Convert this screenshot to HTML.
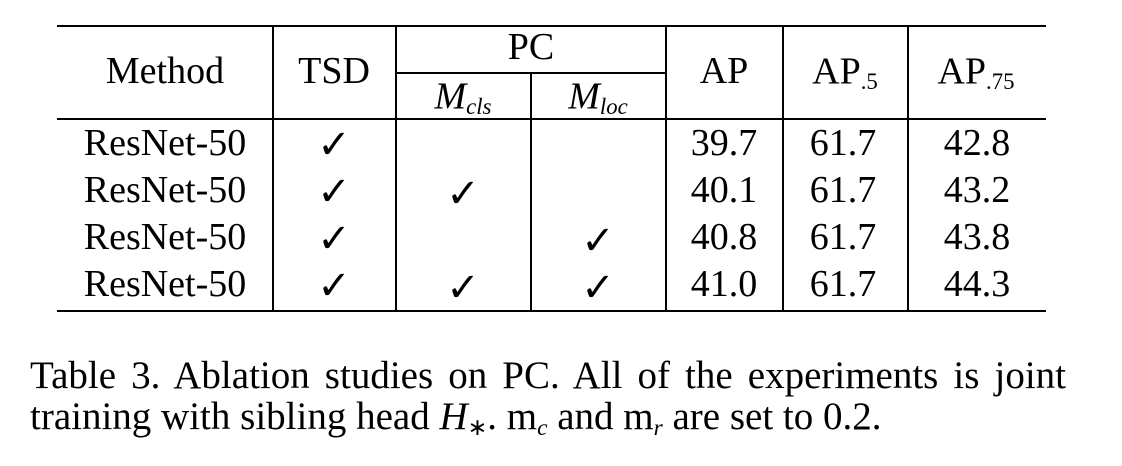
<!DOCTYPE html>
<html><head><meta charset="utf-8"><style>
body{margin:0;width:1122px;height:466px;background:#fff;position:relative;overflow:hidden;font-family:"Liberation Serif",serif;color:#000}
.t{position:absolute;font-size:38px;line-height:1;transform:translate(-50%,-50%);white-space:nowrap}
.h{position:absolute;background:#000}
.cap{position:absolute;left:30px;width:1036px;font-size:39px;line-height:41px;text-align:justify;white-space:nowrap}
.cap .l1{display:block;text-align:justify;text-align-last:justify}
i{font-style:italic}
sub{font-size:60%;vertical-align:-0.25em}
.ck{font-size:40px}
</style></head><body>
<div>
<div class="h" style="left:57px;top:25px;width:989px;height:2px"></div>
<div class="h" style="left:396px;top:72px;width:270px;height:2px"></div>
<div class="h" style="left:57px;top:118px;width:989px;height:2px"></div>
<div class="h" style="left:57px;top:310px;width:989px;height:2px"></div>
<div class="h" style="left:272px;top:26px;width:2px;height:285px"></div>
<div class="h" style="left:395px;top:26px;width:2px;height:285px"></div>
<div class="h" style="left:530px;top:73px;width:2px;height:238px"></div>
<div class="h" style="left:665px;top:26px;width:2px;height:285px"></div>
<div class="h" style="left:782px;top:26px;width:2px;height:285px"></div>
<div class="h" style="left:907px;top:26px;width:2px;height:285px"></div>

<div class="t" style="left:165px;top:71px">Method</div>
<div class="t" style="left:334px;top:71px">TSD</div>
<div class="t" style="left:531px;top:47px">PC</div>
<div class="t" style="left:463px;top:98px"><i>M</i><sub><i>cls</i></sub></div>
<div class="t" style="left:598px;top:98px"><i>M</i><sub><i>loc</i></sub></div>
<div class="t" style="left:724px;top:71px">AP</div>
<div class="t" style="left:845px;top:73px">AP<sub>.5</sub></div>
<div class="t" style="left:976px;top:73px">AP<sub>.75</sub></div>

<div id="rows"></div>
</div>
<div class="cap" style="top:355px"><span class="l1">Table 3. Ablation studies on PC. All of the experiments is joint</span>training with sibling head <i>H</i><sub>∗</sub>. m<sub><i>c</i></sub> and m<sub><i>r</i></sub> are set to 0.2.</div>
<script>
const methods=["ResNet-50","ResNet-50","ResNet-50","ResNet-50"];
const tsd=[1,1,1,1];
const mcls=[0,1,0,1];
const mloc=[0,0,1,1];
const ap=["39.7","40.1","40.8","41.0"];
const ap50=["61.7","61.7","61.7","61.7"];
const ap75=["42.8","43.2","43.8","44.3"];
const root=document.getElementById('rows');
function cell(x,y,txt,name,cls){const d=document.createElement('div');d.className='t'+(cls?' '+cls:'');d.style.left=x+'px';d.style.top=y+'px';d.textContent=txt;


root.appendChild(d);}
for(let i=0;i<methods.length;i++){const y=143+i*47;
cell(165,y,methods[i],'method-cell');
if(tsd[i])cell(334,y+2,'✓','tsd-check','ck');
if(mcls[i])cell(463,y+4,'✓','mcls-check','ck');
if(mloc[i])cell(598,y+4,'✓','mloc-check','ck');
cell(724,y,ap[i],'ap-cell');
cell(843,y,ap50[i],'ap50-cell');
cell(977,y,ap75[i],'ap75-cell');}
</script>
</body></html>
